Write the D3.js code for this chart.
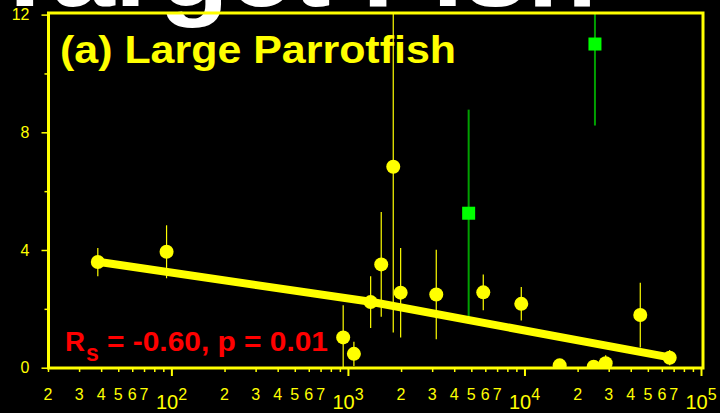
<!DOCTYPE html>
<html>
<head>
<meta charset="utf-8">
<script src="https://cdn.jsdelivr.net/npm/d3@7"></script>
<style>
  html, body { margin: 0; padding: 0; background: #000; }
  svg { display: block; }
</style>
</head>
<body>
<svg id="chart" width="720" height="413"></svg>
<script>
// ---- data ----
const siteArea    = [38.3, 93.9, 940, 1081, 1345, 1544, 1806, 1989, 3165, 5843, 9594, 15828, 24660, 28840, 45290, 66470];
const density     = [3.59, 3.94, 1.03, 0.47, 2.23, 3.51, 6.83, 2.55, 2.49, 2.56, 2.17, 0.08, 0.03, 0.15, 1.79, 0.34];
const densitySE   = [0.48, 0.90, 1.09, 0.41, 0.88, 1.78, 5.63, 1.52, 1.52, 0.61, 0.57, 0, 0, 0.27, 1.10, 0.26];
const outlierArea    = [4829, 25076];
const outlierDensity = [5.25, 11.0];
const outlierSE      = [3.52, 2.77];
const fitArea    = [38.3, 1345, 66470];
const fitDensity = [3.60, 2.24, 0.35];
const yMajorTicks = [0, 4, 8, 12];
const yMinorTicks = [2, 6, 10];
const decades = [100, 1000, 10000, 100000];
const decadeExp = ["2", "3", "4", "5"];
const minorDigits = [2, 3, 4, 5, 6, 7, 8, 9];
const labeledDigits = [2, 3, 4, 5, 6, 7];
const titleText = "(a) Large Parrotfish";
const statText = "= -0.60, p = 0.01";
const headerText = "Target Fish";

// ---- layout ----
const YEL = "#ffff00";
const svg = d3.select("#chart");
svg.append("rect").attr("width", 720).attr("height", 413).attr("fill", "#000");

const x = d3.scaleLog().domain([20, 100000]).range([48, 701]);
const y = d3.scaleLinear().domain([0, 12]).range([367.7, 14.6]);

// header text (clipped at top)
svg.append("text")
  .attr("x", -10).attr("y", 6)
  .attr("font-family", "Liberation Sans, Arial, sans-serif")
  .attr("font-weight", "bold").attr("font-size", 104)
  .attr("textLength", 607).attr("lengthAdjust", "spacingAndGlyphs")
  .attr("fill", "#fff")
  .text(headerText);

// clip
svg.append("clipPath").attr("id", "plotclip")
  .append("rect").attr("x", 48).attr("y", 13).attr("width", 655).attr("height", 355);

const minorVals = [];
[10, 100, 1000, 10000].forEach(d => minorDigits.forEach(m => { if (d * m >= 20) minorVals.push(d * m); }));

// x axis ticks
const gxMinor = svg.append("g").attr("transform", "translate(0,368)")
  .call(d3.axisBottom(x).tickValues(minorVals).tickSize(4).tickFormat(""));
const gxMajor = svg.append("g").attr("transform", "translate(0,368)")
  .call(d3.axisBottom(x).tickValues(decades).tickSize(8).tickFormat(""));
[gxMinor, gxMajor].forEach(g => {
  g.select(".domain").remove();
  g.selectAll(".tick line").attr("stroke", YEL).attr("stroke-width", 1.5);
});
gxMajor.selectAll(".tick line").attr("stroke-width", 2);

// y axis ticks
const gyMajor = svg.append("g").attr("transform", "translate(48.5,0)")
  .call(d3.axisLeft(y).tickValues(yMajorTicks).tickSize(7).tickPadding(12));
const gyMinor = svg.append("g").attr("transform", "translate(48.5,0)")
  .call(d3.axisLeft(y).tickValues(yMinorTicks).tickSize(4).tickFormat(""));
[gyMajor, gyMinor].forEach(g => {
  g.select(".domain").remove();
  g.selectAll(".tick line").attr("stroke", YEL).attr("stroke-width", 1.5);
});
gyMajor.selectAll(".tick text")
  .attr("fill", YEL).attr("font-size", 16)
  .attr("font-family", "Liberation Sans, Arial, sans-serif");

// x labels
const xl = svg.append("g").attr("font-family", "Liberation Sans, Arial, sans-serif").attr("fill", YEL);
[10, 100, 1000, 10000].forEach(d => {
  labeledDigits.forEach(m => {
    xl.append("text").attr("x", x(d * m)).attr("y", 400)
      .attr("text-anchor", "middle").attr("font-size", 16).text(m);
  });
});
decades.forEach((d, i) => {
  const cx = x(d);
  const t = xl.append("text").attr("x", cx - 15.5).attr("y", 408.5);
  t.append("tspan").attr("font-size", 20).text("10");
  t.append("tspan").attr("font-size", 16).attr("dy", -9).text(decadeExp[i]);
});

// plot content
const plot = svg.append("g").attr("clip-path", "url(#plotclip)");

// error bars
plot.selectAll("line.err").data(siteArea).enter().append("line")
  .attr("x1", (d) => x(d)).attr("x2", (d) => x(d))
  .attr("y1", (d, i) => y(density[i] - densitySE[i]))
  .attr("y2", (d, i) => y(density[i] + densitySE[i]))
  .attr("stroke", YEL).attr("stroke-width", 1.2);
plot.selectAll("line.gerr").data(outlierArea).enter().append("line")
  .attr("x1", (d) => x(d)).attr("x2", (d) => x(d))
  .attr("y1", (d, i) => y(outlierDensity[i] - outlierSE[i]))
  .attr("y2", (d, i) => y(outlierDensity[i] + outlierSE[i]))
  .attr("stroke", "#00a000").attr("stroke-width", 2);

// fit line
const fitPts = fitArea.map((a, i) => [a, fitDensity[i]]);
plot.append("path").datum(fitPts)
  .attr("d", d3.line().x(d => x(d[0])).y(d => y(d[1])))
  .attr("fill", "none").attr("stroke", YEL).attr("stroke-width", 8)
  .attr("stroke-linejoin", "round");

// points
plot.selectAll("circle.pt").data(siteArea).enter().append("circle")
  .attr("cx", d => x(d)).attr("cy", (d, i) => y(density[i]))
  .attr("r", 7).attr("fill", YEL);
plot.selectAll("rect.out").data(outlierArea).enter().append("rect")
  .attr("x", d => x(d) - 6.5).attr("y", (d, i) => y(outlierDensity[i]) - 6.5)
  .attr("width", 13).attr("height", 13).attr("fill", "#00ff00");

// frame
svg.append("rect").attr("x", 48.5).attr("y", 13).attr("width", 654.5).attr("height", 355)
  .attr("fill", "none").attr("stroke", YEL).attr("stroke-width", 3);

// title
svg.append("text").attr("x", 60).attr("y", 62.7)
  .attr("font-family", "Liberation Sans, Arial, sans-serif")
  .attr("font-weight", "bold").attr("font-size", 39)
  .attr("textLength", 396).attr("lengthAdjust", "spacingAndGlyphs")
  .attr("fill", YEL).text(titleText);

// statistic
const st = svg.append("g").attr("font-family", "Liberation Sans, Arial, sans-serif")
  .attr("font-weight", "bold").attr("fill", "#ff0000");
st.append("text").attr("x", 65).attr("y", 351).attr("font-size", 27)
  .attr("textLength", 20).attr("lengthAdjust", "spacingAndGlyphs").text("R");
st.append("text").attr("x", 86).attr("y", 361).attr("font-size", 23).text("s");
st.append("text").attr("x", 107).attr("y", 351).attr("font-size", 27)
  .attr("textLength", 221).attr("lengthAdjust", "spacingAndGlyphs").text(statText);
</script>
</body>
</html>
